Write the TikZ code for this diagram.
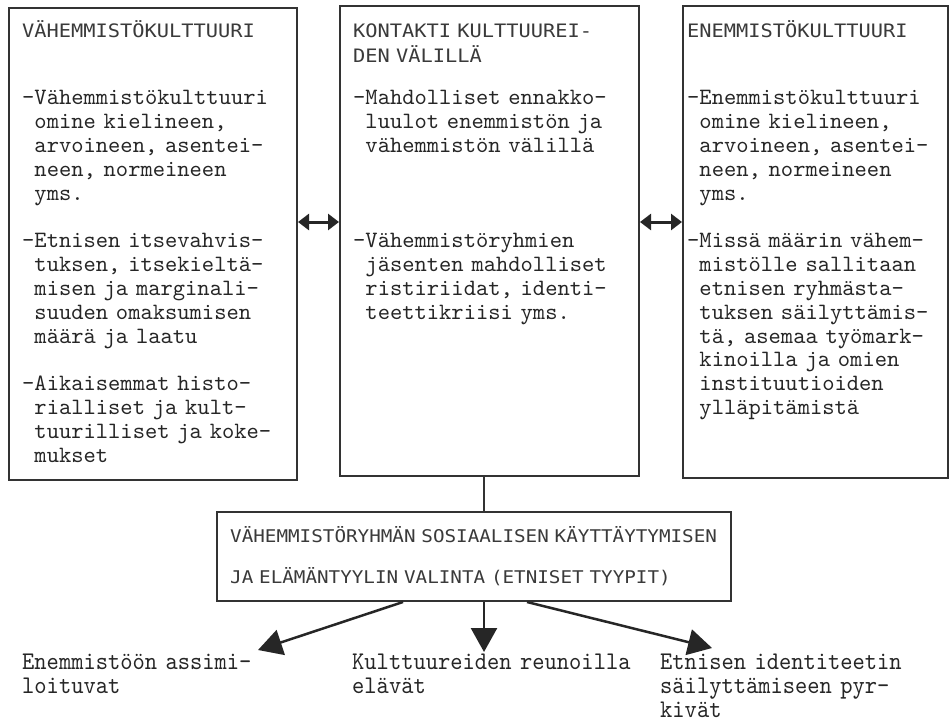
\documentclass[tikz,border=0pt]{standalone}
\usepackage{fontspec}
\usetikzlibrary{arrows.meta}
\newfontfamily\bodyfont{lmmono10-regular.otf}
\newfontfamily\headfont[FakeStretch=1.1]{DejaVu Sans Mono}
\newfontfamily\labfont[FakeStretch=0.92]{lmmono10-regular.otf}
\definecolor{ink}{HTML}{262626}
\definecolor{headink}{HTML}{3A3A3A}
\definecolor{boxcol}{HTML}{333333}
\newcommand{\ind}{\hphantom{-}}
\begin{document}
\begin{tikzpicture}[x=1pt,y=-1pt,
  boxframe/.style={draw=boxcol, line width=2pt, inner sep=0pt, anchor=north west},
  bodytxt/.style={font=\bodyfont\fontsize{23.4}{23.8}\selectfont, anchor=base west, inner sep=0pt, align=left, text width=300pt, text=ink},
  headtxt/.style={font=\headfont\fontsize{18.5}{25}\selectfont, anchor=base west, inner sep=0pt, align=left, text width=300pt, text=headink},
  labtxt/.style={font=\labfont\fontsize{25.4}{24}\selectfont, anchor=base west, inner sep=0pt, align=left, text width=300pt, text=ink},
  dblarrow/.style={line width=3pt, draw=ink, {Triangle[length=11pt,width=16pt]}-{Triangle[length=11pt,width=16pt]}},
  downarrow/.style={line width=2.5pt, draw=ink, -{Triangle[length=24pt,width=26pt]}}
]
\fill[white] (0,0) rectangle (949,722);
\useasboundingbox (0,0) rectangle (949,722);

% boxes
\node[boxframe, minimum width=288pt, minimum height=472pt] (left) at (8,7) {};
\node[boxframe, minimum width=299pt, minimum height=470pt] (mid) at (339,5) {};
\node[boxframe, minimum width=265pt, minimum height=472pt] (right) at (682,5) {};
\node[boxframe, minimum width=514pt, minimum height=89pt] (bot) at (216,511) {};

% left box text
\node[headtxt] (lefthead) at (22,38) {VÄHEMMISTÖKULTTUURI};
\node[bodytxt] (leftbody) at (22,105) {-Vähemmistökulttuuri\\
\ind omine kielineen,\\
\ind arvoineen, asentei-\\
\ind neen, normeineen\\
\ind yms.\\[23.8pt]
-Etnisen itsevahvis-\\
\ind tuksen, itsekieltä-\\
\ind misen ja marginali-\\
\ind suuden omaksumisen\\
\ind määrä ja laatu\\[23.8pt]
-Aikaisemmat histo-\\
\ind rialliset ja kult-\\
\ind tuurilliset ja koke-\\
\ind mukset};

% middle box text
\node[headtxt] (midhead) at (353,38) {KONTAKTI KULTTUUREI-\\DEN VÄLILLÄ};
\node[bodytxt] (midbody) at (353,105) {-Mahdolliset ennakko-\\
\ind luulot enemmistön ja\\
\ind vähemmistön välillä\\[71.4pt]
-Vähemmistöryhmien\\
\ind jäsenten mahdolliset\\
\ind ristiriidat, identi-\\
\ind teettikriisi yms.};

% right box text
\node[headtxt] (righthead) at (687,38) {ENEMMISTÖKULTTUURI};
\node[bodytxt] (rightbody) at (687,105) {-Enemmistökulttuuri\\
\ind omine kielineen,\\
\ind arvoineen, asentei-\\
\ind neen, normeineen\\
\ind yms.\\[23.8pt]
-Missä määrin vähem-\\
\ind mistölle sallitaan\\
\ind etnisen ryhmästa-\\
\ind tuksen säilyttämis-\\
\ind tä, asemaa työmark-\\
\ind kinoilla ja omien\\
\ind instituutioiden\\
\ind ylläpitämistä};

% bottom box text
\node[headtxt, text width=520pt, font=\headfont\fontsize{17.5}{41}\selectfont] (bottext) at (230,542) {VÄHEMMISTÖRYHMÄN SOSIAALISEN KÄYTTÄYTYMISEN\\JA ELÄMÄNTYYLIN VALINTA (ETNISET TYYPIT)};

% labels under arrows
\node[labtxt] (lab1) at (22,669) {Enemmistöön assimi-\\loituvat};
\node[labtxt] (lab2) at (352,669) {Kulttuureiden reunoilla\\elävät};
\node[labtxt] (lab3) at (660,669) {Etnisen identiteetin\\säilyttämiseen pyr-\\kivät};

% connectors
\coordinate (ay) at (0,222);
\draw[dblarrow] (left.east |- ay) -- (mid.west |- ay);
\draw[dblarrow] (mid.east |- ay) -- (right.west |- ay);
\coordinate (cx) at (484,0);
\draw[line width=2pt, boxcol] (mid.south -| cx) -- (bot.north -| cx);

\coordinate (s1) at (403,600);
\coordinate (s2) at (484,600);
\coordinate (s3) at (527,600);
\coordinate (t1) at (258,650);
\coordinate (t2) at (484,652);
\coordinate (t3) at (712,648);
\draw[downarrow] (bot.south -| s1) -- (t1);
\draw[downarrow] (bot.south -| s2) -- (t2);
\draw[downarrow] (bot.south -| s3) -- (t3);
\end{tikzpicture}
\end{document}
